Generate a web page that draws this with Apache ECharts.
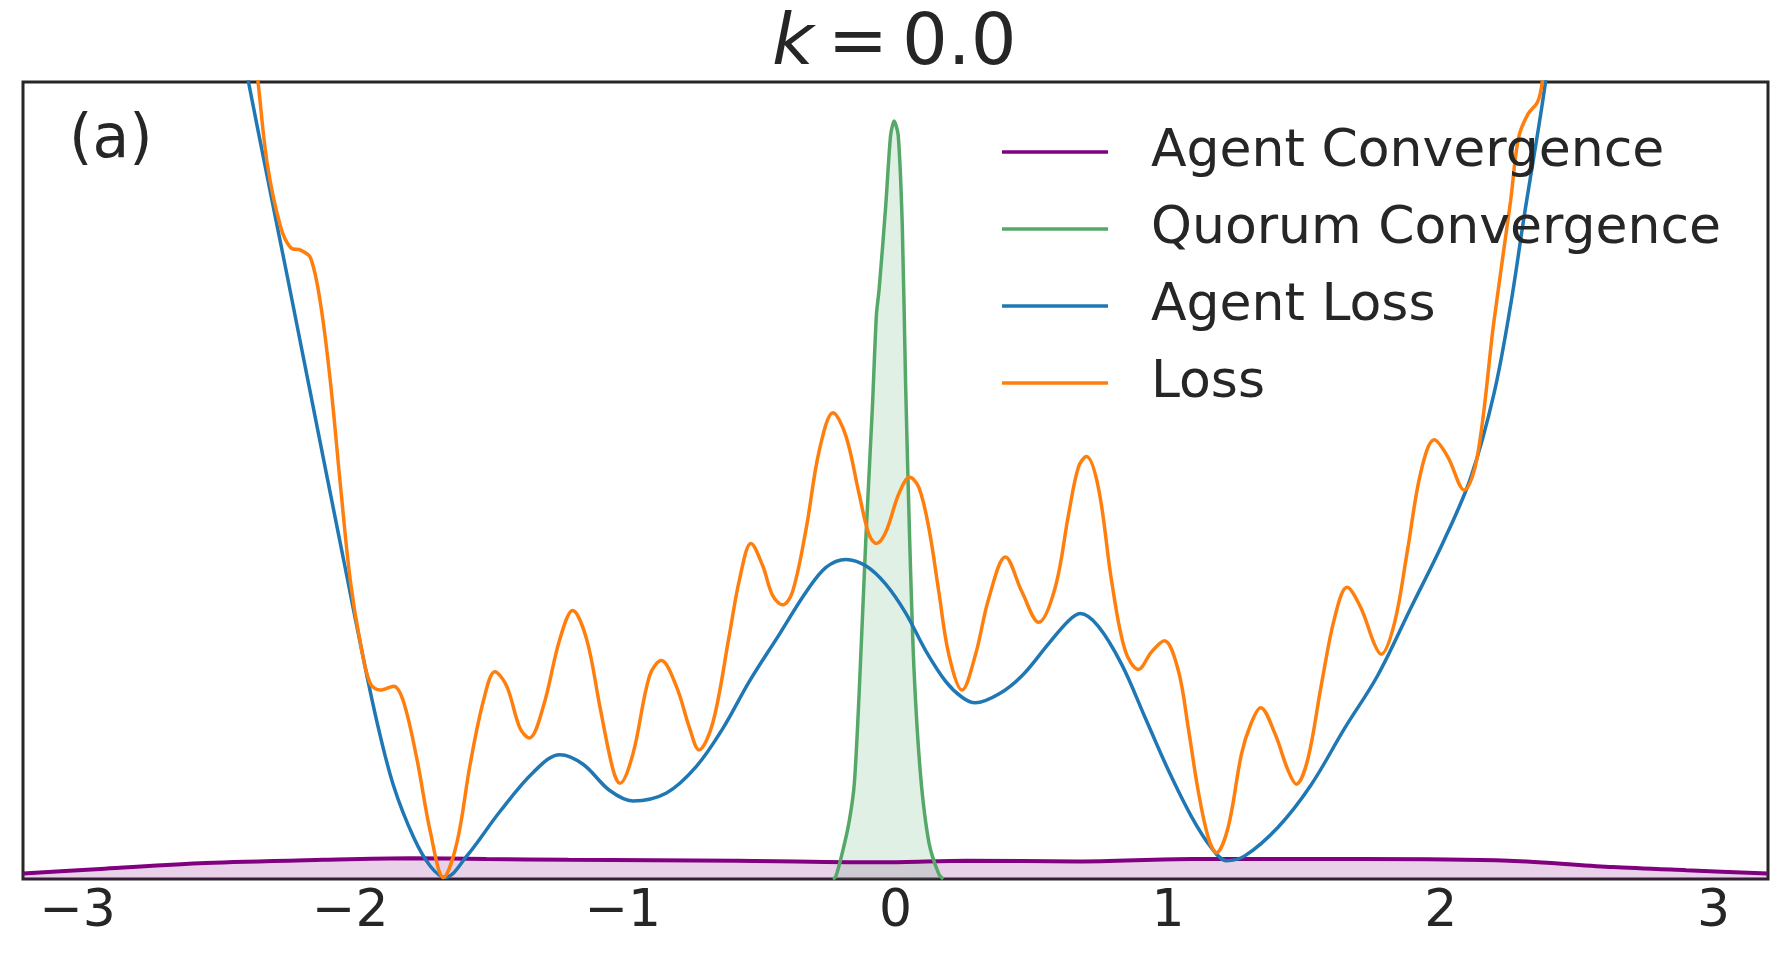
<!DOCTYPE html>
<html>
<head>
<meta charset="utf-8">
<script src="https://cdn.jsdelivr.net/npm/echarts@6.0.0/dist/echarts.min.js"></script>
<style>
  html, body { margin: 0; padding: 0; background: #fff; }
  #main { width: 1783px; height: 953px; }
</style>
</head>
<body>
<div id="main"></div>
<script>
// values, x in data units, y in arbitrary units (0 = bottom, 100 = top)
var xTicks = [-3, -2, -1, 0, 1, 2, 3];

var agentConvergence = [
  [-3.2, 0.7], [-2.9, 1.3], [-2.53, 2.0], [-2.1, 2.4], [-1.78, 2.6], [-1.5, 2.5],
  [-1.2, 2.4], [-0.58, 2.3], [-0.04, 2.1], [0.26, 2.3], [0.67, 2.2], [1.09, 2.5],
  [1.71, 2.5], [2.25, 2.3], [2.63, 1.5], [2.9, 1.1], [3.2, 0.7]
];

var quorumConvergence = [
  [-0.23, 0], [-0.219, 0.3], [-0.195, 3.3], [-0.17, 7.2], [-0.151, 12], [-0.134, 22.8],
  [-0.109, 42.5], [-0.085, 59.0], [-0.07, 70.8], [-0.06, 74.0], [-0.036, 84.4],
  [-0.018, 93.3], [-0.005, 95.1], [0.01, 93.3], [0.025, 81.8], [0.037, 62.2],
  [0.052, 42.5], [0.068, 26.2], [0.092, 13.0], [0.123, 4.5], [0.159, 0.6], [0.175, 0]
];

var agentLoss = [
  [-2.45, 114], [-2.373, 100], [-2.304, 88.1], [-2.23, 75.5], [-2.157, 62.9],
  [-2.084, 50.3], [-2.011, 37.8], [-1.962, 29.4], [-1.901, 19.6], [-1.841, 11.7],
  [-1.767, 5.2], [-1.706, 1.6], [-1.651, 0.2], [-1.572, 2.9], [-1.45, 8.5],
  [-1.328, 13.4], [-1.231, 15.6], [-1.146, 14.4], [-1.048, 11.1], [-0.963, 9.8],
  [-0.84, 10.8], [-0.731, 14.1], [-0.633, 18.9], [-0.536, 24.8], [-0.426, 30.7],
  [-0.328, 36.0], [-0.255, 39.1], [-0.182, 40.1], [-0.109, 39.3], [-0.036, 37.0],
  [0.037, 33.4], [0.11, 28.7], [0.184, 24.8], [0.244, 22.8], [0.293, 22.1],
  [0.379, 23.2], [0.464, 25.5], [0.561, 29.5], [0.635, 32.4], [0.677, 33.3],
  [0.744, 31.7], [0.83, 26.9], [0.915, 20.3], [1.0, 13.7], [1.086, 7.8],
  [1.159, 3.9], [1.214, 2.3], [1.281, 2.9], [1.403, 6.5], [1.524, 11.8],
  [1.647, 18.9], [1.768, 25.5], [1.89, 34.0], [2.012, 42.5], [2.11, 50.4],
  [2.195, 60.9], [2.256, 72.0], [2.305, 83.0], [2.384, 100], [2.45, 118]
];

var loss = [
  [-2.4, 118], [-2.338, 100], [-2.304, 89.7], [-2.255, 81.8], [-2.218, 79.2],
  [-2.182, 78.9], [-2.145, 77.9], [-2.108, 72.0], [-2.072, 62.2], [-2.035, 49.1],
  [-1.999, 37.3], [-1.962, 29.5], [-1.926, 24.5], [-1.889, 23.7], [-1.84, 24.2],
  [-1.804, 22.2], [-1.755, 15.0], [-1.706, 5.9], [-1.658, 0.2], [-1.609, 4.5],
  [-1.56, 14.4], [-1.511, 22.4], [-1.469, 26.0], [-1.426, 24.2], [-1.377, 18.9],
  [-1.343, 17.7], [-1.292, 21.6], [-1.231, 30.1], [-1.184, 33.7], [-1.133, 30.1],
  [-1.084, 21.6], [-1.036, 13.7], [-1.011, 12.0], [-0.963, 15.7], [-0.902, 25.5],
  [-0.859, 27.4], [-0.804, 24.2], [-0.755, 18.9], [-0.721, 16.2], [-0.67, 19.6],
  [-0.609, 30.7], [-0.572, 37.6], [-0.53, 42.1], [-0.487, 39.3], [-0.451, 35.6],
  [-0.414, 34.4], [-0.378, 36.0], [-0.328, 43.9], [-0.28, 53.7], [-0.229, 58.5],
  [-0.182, 55.6], [-0.134, 48.4], [-0.097, 43.2], [-0.07, 42.1], [-0.036, 43.5],
  [0.013, 48.4], [0.052, 50.4], [0.086, 49.1], [0.123, 43.9], [0.159, 36.0],
  [0.196, 28.1], [0.244, 23.7], [0.293, 28.1], [0.342, 35.2], [0.403, 40.4],
  [0.464, 36.0], [0.525, 32.2], [0.586, 36.6], [0.635, 45.8], [0.671, 51.7],
  [0.7, 53.0], [0.744, 49.1], [0.793, 37.3], [0.842, 28.7], [0.891, 26.3],
  [0.939, 28.5], [0.986, 29.9], [1.037, 26.2], [1.074, 18.9], [1.11, 11.1],
  [1.147, 5.2], [1.177, 3.3], [1.22, 6.5], [1.269, 15.7], [1.305, 19.6],
  [1.339, 21.5], [1.391, 18.3], [1.439, 13.7], [1.47, 11.9], [1.512, 15.0],
  [1.561, 24.2], [1.61, 32.7], [1.656, 36.6], [1.707, 34.0], [1.756, 29.5],
  [1.781, 28.2], [1.83, 32.1], [1.878, 41.3], [1.927, 51.1], [1.976, 55.1],
  [2.025, 53.0], [2.086, 48.8], [2.134, 53.0], [2.195, 70.0], [2.256, 85.1],
  [2.285, 93.0], [2.32, 96.0], [2.355, 97.5], [2.372, 100], [2.42, 115]
];

var seriesNames = ['Agent Convergence', 'Quorum Convergence', 'Agent Loss', 'Loss'];

var myChart = echarts.init(document.getElementById('main'));

var option = {
  animation: false,
  backgroundColor: '#ffffff',
  textStyle: { fontFamily: 'DejaVu Sans' },
  title: {
    text: '{k|k}{e|=}{n|0.0}',
    left: 772,
    top: 9,
    padding: 0,
    textStyle: {
      fontWeight: 'normal',
      rich: {
        k: { fontSize: 72, fontStyle: 'italic', fontWeight: 'normal', color: '#262626', fontFamily: 'DejaVu Sans', lineHeight: 72 },
        e: { fontSize: 72, fontWeight: 'normal', color: '#262626', fontFamily: 'DejaVu Sans', padding: [0, 14, 0, 14], lineHeight: 72 },
        n: { fontSize: 72, fontWeight: 'normal', color: '#262626', fontFamily: 'DejaVu Sans', lineHeight: 72 }
      }
    }
  },
  legend: {
    data: seriesNames,
    orient: 'vertical',
    left: 1002,
    top: 122,
    padding: 0,
    itemWidth: 106,
    itemHeight: 3.5,
    itemGap: 17,
    icon: 'rect',
    textStyle: {
      fontSize: 52,
      color: '#262626',
      fontFamily: 'DejaVu Sans',
      lineHeight: 60,
      padding: [0, 0, 0, 38]
    }
  },
  grid: {
    left: 23,
    right: 15,
    top: 82,
    bottom: 74,
    show: true,
    borderColor: '#262626',
    borderWidth: 3,
    backgroundColor: '#ffffff'
  },
  xAxis: {
    type: 'value',
    min: -3.2,
    max: 3.2,
    axisLine: { show: false },
    axisTick: { show: false },
    splitLine: { show: false },
    axisLabel: {
      customValues: xTicks,
      fontSize: 52,
      color: '#262626',
      fontFamily: 'DejaVu Sans',
      margin: 7,
      formatter: function (v) { return String(v).replace('-', '\u2212'); }
    }
  },
  yAxis: {
    type: 'value',
    min: 0,
    max: 100,
    show: false
  },
  graphic: [
    {
      type: 'text',
      left: 69,
      top: 111,
      style: {
        text: '(a)',
        font: '60px "DejaVu Sans"',
        fill: '#262626'
      }
    }
  ],
  series: [
    {
      name: 'Agent Convergence',
      type: 'line',
      data: agentConvergence,
      smooth: 0.3,
      showSymbol: false,
      symbol: 'none',
      color: '#800080',
      lineStyle: { color: '#800080', width: 4 },
      areaStyle: { color: 'rgba(128,0,128,0.25)' }
    },
    {
      name: 'Quorum Convergence',
      type: 'line',
      data: quorumConvergence,
      smooth: 0.25,
      showSymbol: false,
      symbol: 'none',
      color: '#55a868',
      lineStyle: { color: '#55a868', width: 3.5 },
      areaStyle: { color: 'rgba(85,168,104,0.25)' }
    },
    {
      name: 'Agent Loss',
      type: 'line',
      data: agentLoss,
      smooth: 0.35,
      showSymbol: false,
      symbol: 'none',
      color: '#1f77b4',
      lineStyle: { color: '#1f77b4', width: 3.5 }
    },
    {
      name: 'Loss',
      type: 'line',
      data: loss,
      smooth: 0.35,
      showSymbol: false,
      symbol: 'none',
      color: '#ff7f0e',
      lineStyle: { color: '#ff7f0e', width: 3.5 }
    }
  ]
};

myChart.setOption(option);
</script>
</body>
</html>
